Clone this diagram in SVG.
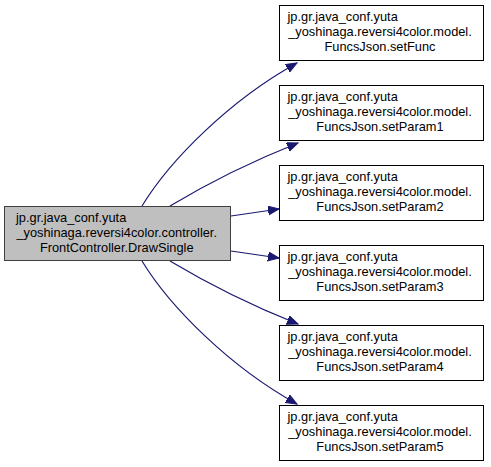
<svg xmlns="http://www.w3.org/2000/svg" width="491" height="467" viewBox="0 0 491 467">
<defs>
<style>
.box{fill:#ffffff;stroke:#000000;stroke-width:1}
.src{fill:#bfbfbf;stroke:#404040;stroke-width:1}
text{font-family:"Liberation Sans",Arial,sans-serif;font-size:12.8px;fill:#000000}
.c{text-anchor:middle}
.e{fill:none;stroke:#191970;stroke-width:1.2;marker-end:url(#ah)}
</style>
<marker id="ah" markerUnits="userSpaceOnUse" markerWidth="12" markerHeight="10" refX="11" refY="4.5" orient="auto">
<path d="M0,0 L11,4.5 L0,9 Z" fill="#191970" stroke="#191970"/>
</marker>
</defs>
<rect width="491" height="467" fill="#ffffff"/>
<g id="connectors">
<path class="e" d="M142,206 C170,160 230,100 297,63"/>
<path class="e" d="M170,206 C205,185 250,162 298,143"/>
<path class="e" d="M231,216 L279,209"/>
<path class="e" d="M231,251 L279,258"/>
<path class="e" d="M170,261 C205,282 250,305 298,324"/>
<path class="e" d="M142,261 C170,307 230,367 297,404"/>
</g>
<g id="src">
<rect class="src" x="4.5" y="206.5" width="226" height="54"/>
<text x="16" y="222">jp.gr.java_conf.yuta</text>
<text class="c" x="116.7" y="237">_yoshinaga.reversi4color.controller.</text>
<text class="c" x="116.7" y="252">FrontController.DrawSingle</text>
</g>
<g id="n1">
<rect class="box" x="279.5" y="5.5" width="204" height="55"/>
<text x="287.5" y="21">jp.gr.java_conf.yuta</text>
<text class="c" x="380" y="36">_yoshinaga.reversi4color.model.</text>
<text class="c" x="380" y="51">FuncsJson.setFunc</text>
</g>
<g id="n2">
<rect class="box" x="279.5" y="85.5" width="204" height="55"/>
<text x="287.5" y="101">jp.gr.java_conf.yuta</text>
<text class="c" x="380" y="116">_yoshinaga.reversi4color.model.</text>
<text class="c" x="380" y="131">FuncsJson.setParam1</text>
</g>
<g id="n3">
<rect class="box" x="279.5" y="165.5" width="204" height="55"/>
<text x="287.5" y="181">jp.gr.java_conf.yuta</text>
<text class="c" x="380" y="196">_yoshinaga.reversi4color.model.</text>
<text class="c" x="380" y="211">FuncsJson.setParam2</text>
</g>
<g id="n4">
<rect class="box" x="279.5" y="245.5" width="204" height="55"/>
<text x="287.5" y="261">jp.gr.java_conf.yuta</text>
<text class="c" x="380" y="276">_yoshinaga.reversi4color.model.</text>
<text class="c" x="380" y="291">FuncsJson.setParam3</text>
</g>
<g id="n5">
<rect class="box" x="279.5" y="325.5" width="204" height="55"/>
<text x="287.5" y="341">jp.gr.java_conf.yuta</text>
<text class="c" x="380" y="356">_yoshinaga.reversi4color.model.</text>
<text class="c" x="380" y="371">FuncsJson.setParam4</text>
</g>
<g id="n6">
<rect class="box" x="279.5" y="405.5" width="204" height="55"/>
<text x="287.5" y="421">jp.gr.java_conf.yuta</text>
<text class="c" x="380" y="436">_yoshinaga.reversi4color.model.</text>
<text class="c" x="380" y="451">FuncsJson.setParam5</text>
</g>
</svg>
